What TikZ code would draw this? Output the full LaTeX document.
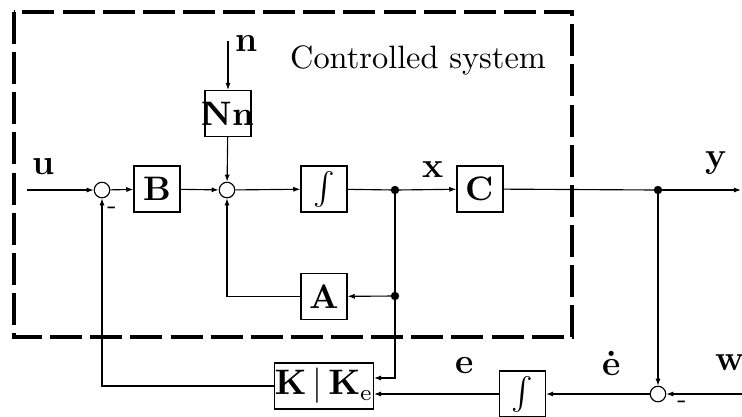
\documentclass[tikz,border=0pt]{standalone}
\usetikzlibrary{arrows.meta}
\begin{document}
\begin{tikzpicture}[x=0.309pt,y=-0.309pt,
  line width=0.35pt,
  >={Latex[length=2.2pt,width=1.6pt]},
  blk/.style={draw,line width=0.4pt,minimum width=14.2pt,minimum height=14.2pt,inner sep=0pt,font=\fontsize{10.5}{12}\selectfont\bfseries},
  sumj/.style={draw,circle,line width=0.35pt,minimum size=4.8pt,inner sep=0pt},
  jdot/.style={circle,fill,minimum size=2.6pt,inner sep=0pt},
  lbl/.style={font=\fontsize{11}{13}\selectfont\bfseries,inner sep=0pt},
  sgn/.style={font=\fontsize{8}{9}\selectfont,inner sep=0pt}]
\useasboundingbox (0,0) rectangle (742,416);
\clip (0,0) rectangle (742,416);
% controlled system frame
\draw[line width=1.3pt,dash pattern=on 9.9pt off 2.5pt] (14,12) rectangle (572,337);
\node[font=\fontsize{10}{12}\selectfont,inner sep=0pt] at (418,60) {Controlled system};
% nodes
\node[sumj] (s1) at (102,190) {};
\node[blk] (B) at (157,189) {B};
\node[sumj] (s2) at (227,190) {};
\node[blk] (N) at (228,113.5) {\makebox[14.2pt]{Nn}};
\node[blk] (I1) at (324,189) {$\int$};
\node[jdot] (d1) at (395,190) {};
\node[blk] (C) at (480,189) {C};
\node[jdot] (d2) at (658,190) {};
\node[blk] (A) at (324,296.5) {A};
\node[jdot] (d3) at (395,296) {};
\node[blk,minimum width=28.4pt] (K) at (324,386) {$\mathbf{K}\,|\,\mathbf{K}_{\mathrm{e}}$};
\node[blk] (I2) at (522.5,394) {$\int$};
\node[sumj] (s3) at (658,394) {};
\coordinate (uin) at (27,190);
\coordinate (nin) at (228,41);
\coordinate (yout) at (741,190);
\coordinate (win) at (742,394);
\coordinate (Kt) at (K.east |- 0,378);
\coordinate (Kb) at (K.east |- 0,394);
% connectors
\draw[->] (uin) -- (s1);
\draw[->] (s1) -- (B);
\draw[->] (B) -- (s2);
\draw[->] (nin) -- (N);
\draw[->] (N) -- (s2);
\draw[->] (s2) -- (I1);
\draw (I1) -- (d1.center);
\draw[->] (d1.center) -- (C);
\draw (C) -- (d2.center);
\draw[->] (d2.center) -- (yout);
\draw (d1.center) -- (d3.center);
\draw[->] (d3.center) -- (A);
\draw[->] (A.west) -| (s2.south);
\draw[->] (d3.center) |- (Kt);
\draw[->] (K.west) -| (s1.south);
\draw[->] (d2.center) -- (s3);
\draw[->] (win) -- (s3);
\draw[->] (s3) -- (I2);
\draw[->] (I2) -- (Kb);
% labels
\node[lbl] at (44,167) {u};
\node[lbl] at (247,43) {n};
\node[lbl] at (433,170) {x};
\node[lbl] at (716,163) {y};
\node[lbl] at (465,366) {e};
\node[lbl] at (612,363) {\.{e}};
\node[lbl] at (730,363) {w};
\node[sgn] at (112,210) {-};
\node[sgn] at (682,404) {-};
\end{tikzpicture}
\end{document}
